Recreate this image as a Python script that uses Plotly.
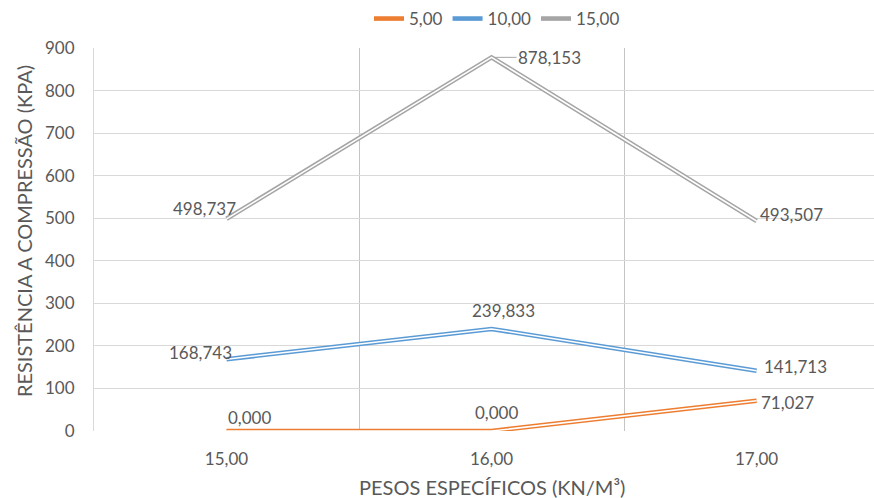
import plotly.graph_objects as go

# Categories (specific weight) and compressive strength series
categories = ["15,00", "16,00", "17,00"]
series_names = ["5,00", "10,00", "15,00"]
values_5 = [0.000, 0.000, 71.027]
values_10 = [168.743, 239.833, 141.713]
values_15 = [498.737, 878.153, 493.507]
y_ticks = [0, 100, 200, 300, 400, 500, 600, 700, 800, 900]

colors = ["#ED7D31", "#5B9BD5", "#A5A5A5"]
text_color = "#595959"
font_family = "Lato, 'Open Sans', sans-serif"

all_values = [values_5, values_10, values_15]

# Per-label offsets in pixels (xshift, yshift) for the data labels
label_offsets = [
    [(22.5, 13), (4.5, 18), (31, -2)],
    [(-26.5, 7), (12, 18), (38.5, 4)],
    [(-22, 10), None, (35, 7)],
]

fig = go.Figure()

# Compound ("double") lines: a thick coloured stroke with a thin white core
for name, vals, col in zip(series_names, all_values, colors):
    fig.add_trace(go.Scatter(
        x=categories, y=vals, mode="lines", name=name,
        line=dict(color=col, width=4.6),
        hoverinfo="skip",
    ))
    fig.add_trace(go.Scatter(
        x=categories, y=vals, mode="lines", showlegend=False,
        line=dict(color="white", width=1.5),
        hoverinfo="skip",
    ))

def fmt(v):
    return f"{v:.3f}".replace(".", ",")

annotations = []
for s, vals in enumerate(all_values):
    for i, v in enumerate(vals):
        off = label_offsets[s][i]
        if off is None:
            # Peak label with a short leader line
            annotations.append(dict(
                x=categories[i], y=v, xref="x", yref="y",
                text=fmt(v), showarrow=True, arrowhead=0,
                arrowwidth=1, arrowcolor="#a6a6a6", standoff=3,
                ax=58, ay=0,
                font=dict(family=font_family, size=17, color=text_color),
            ))
        else:
            annotations.append(dict(
                x=categories[i], y=v, xref="x", yref="y",
                text=fmt(v), showarrow=False,
                xanchor="center", yanchor="middle",
                xshift=off[0], yshift=off[1],
                font=dict(family=font_family, size=17, color=text_color),
            ))

# Axis titles
annotations.append(dict(
    text="PESOS ESPECÍFICOS (KN/M³)", xref="paper", yref="paper",
    x=(492 - 94) / 780, y=-(487 - 431) / 385, showarrow=False,
    xanchor="center", yanchor="middle",
    font=dict(family=font_family, size=20, color=text_color),
))
annotations.append(dict(
    text="RESISTÊNCIA A COMPRESSÃO (KPA)", xref="paper", yref="paper",
    x=(24 - 94) / 780, y=(431 - 230) / 385, showarrow=False, textangle=-90,
    xanchor="center", yanchor="middle",
    font=dict(family=font_family, size=20, color=text_color),
))

fig.update_layout(
    width=874, height=498,
    margin=dict(l=94, r=0, t=46, b=67),
    paper_bgcolor="white", plot_bgcolor="white",
    font=dict(family=font_family, color=text_color, size=17),
    showlegend=True,
    legend=dict(
        orientation="h", xref="container", yref="container",
        x=497 / 874, xanchor="center", y=0.998, yanchor="top",
        font=dict(size=17, color=text_color),
        itemwidth=30, tracegroupgap=0,
    ),
    annotations=annotations,
)

fig.update_xaxes(
    type="category", range=[-0.5, 2.443],
    tickson="boundaries", showgrid=True, gridcolor="#c4c4c4", gridwidth=1,
    ticks="", showline=False, zeroline=False,
    tickfont=dict(size=17, color=text_color, family=font_family),
    ticklabelstandoff=16,
)
fig.update_yaxes(
    range=[0, 900], tickvals=y_ticks, ticktext=[str(t) for t in y_ticks],
    showgrid=True, gridcolor="#d9d9d9", gridwidth=1,
    zeroline=False, showline=True, linecolor="#d9d9d9", linewidth=1,
    ticks="",
    tickfont=dict(size=17, color=text_color, family=font_family),
    ticklabelstandoff=15,
)

fig.write_html("out.html")
